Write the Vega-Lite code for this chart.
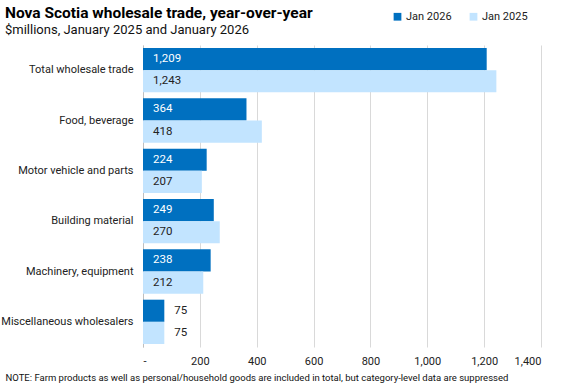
{
  "$schema": "https://vega.github.io/schema/vega-lite/v6.json",
  "autosize": {"type": "none"},
  "width": 398,
  "height": 302,
  "padding": {"left": 143, "top": 45, "right": 36, "bottom": 38},
  "background": "white",
  "config": {
    "font": "Roboto",
    "view": {"stroke": null},
    "axis": {"labelFont": "Roboto", "titleFont": "Roboto"}
  },
  "title": {
    "text": "Nova Scotia wholesale trade, year-over-year",
    "subtitle": "$millions, January 2025 and January 2026",
    "anchor": "start",
    "frame": "group",
    "dx": -138,
    "dy": 36,
    "offset": 10,
    "fontSize": 15.5,
    "fontWeight": "bold",
    "color": "#000",
    "subtitleFontSize": 13,
    "subtitleColor": "#111",
    "subtitlePadding": 3
  },
  "data": {
    "values": [
      {"category": "Total wholesale trade", "series": "Jan 2026", "value": 1209},
      {"category": "Total wholesale trade", "series": "Jan 2025", "value": 1243},
      {"category": "Food, beverage", "series": "Jan 2026", "value": 364},
      {"category": "Food, beverage", "series": "Jan 2025", "value": 418},
      {"category": "Motor vehicle and parts", "series": "Jan 2026", "value": 224},
      {"category": "Motor vehicle and parts", "series": "Jan 2025", "value": 207},
      {"category": "Building material", "series": "Jan 2026", "value": 249},
      {"category": "Building material", "series": "Jan 2025", "value": 270},
      {"category": "Machinery, equipment", "series": "Jan 2026", "value": 238},
      {"category": "Machinery, equipment", "series": "Jan 2025", "value": 212},
      {"category": "Miscellaneous wholesalers", "series": "Jan 2026", "value": 75},
      {"category": "Miscellaneous wholesalers", "series": "Jan 2025", "value": 75}
    ]
  },
  "encoding": {
    "y": {
      "field": "category",
      "type": "nominal",
      "sort": null,
      "scale": {"paddingInner": 0.12, "paddingOuter": 0.06},
      "axis": {
        "title": null,
        "ticks": false,
        "labelFontSize": 11,
        "labelColor": "#222",
        "labelPadding": 10,
        "domainColor": "#bfbfbf",
        "minExtent": 138,
        "maxExtent": 138
      }
    },
    "yOffset": {
      "field": "series",
      "type": "nominal",
      "sort": ["Jan 2026", "Jan 2025"],
      "scale": {"paddingInner": 0, "paddingOuter": 0}
    }
  },
  "layer": [
    {
      "mark": {"type": "bar"},
      "encoding": {
        "x": {
          "field": "value",
          "type": "quantitative",
          "scale": {"domain": [0, 1400], "nice": false},
          "axis": {
            "values": [0, 200, 400, 600, 800, 1000, 1200, 1400],
            "labelExpr": "datum.value == 0 ? '-' : format(datum.value, ',')",
            "labelFontSize": 11,
            "labelColor": "#222",
            "labelPadding": 8,
            "ticks": false,
            "domain": false,
            "grid": true,
            "gridColor": "#d9d9d9",
            "title": "NOTE:  Farm products as well as personal/household goods are included in total, but category-level data are suppressed",
            "titleFontSize": 9.5,
            "titleFontWeight": "normal",
            "titleColor": "#111",
            "titleAnchor": "start",
            "titleAlign": "left",
            "titleBaseline": "alphabetic",
            "titleX": -138,
            "titleY": 33
          }
        },
        "color": {
          "field": "series",
          "type": "nominal",
          "scale": {"domain": ["Jan 2026", "Jan 2025"], "range": ["#0070C0", "#C2E4FF"]},
          "legend": {
            "title": null,
            "orient": "none",
            "legendX": 249,
            "legendY": -34,
            "direction": "horizontal",
            "symbolType": "square",
            "symbolSize": 60,
            "symbolStrokeWidth": 0,
            "labelFontSize": 11,
            "labelColor": "#222",
            "labelOffset": 3,
            "columnPadding": 16
          }
        }
      }
    },
    {
      "transform": [{"filter": "datum.value >= 100"}],
      "mark": {"type": "text", "align": "left", "baseline": "middle", "dx": 10, "fontSize": 11.5},
      "encoding": {
        "x": {"datum": 0, "type": "quantitative"},
        "text": {"field": "value", "type": "quantitative", "format": ","},
        "color": {"condition": {"test": "datum.series == 'Jan 2026'", "value": "white"}, "value": "#222"}
      }
    },
    {
      "transform": [{"filter": "datum.value < 100"}],
      "mark": {"type": "text", "align": "left", "baseline": "middle", "dx": 10, "fontSize": 11.5, "color": "#222"},
      "encoding": {
        "x": {"field": "value", "type": "quantitative"},
        "text": {"field": "value", "type": "quantitative", "format": ","}
      }
    }
  ]
}
